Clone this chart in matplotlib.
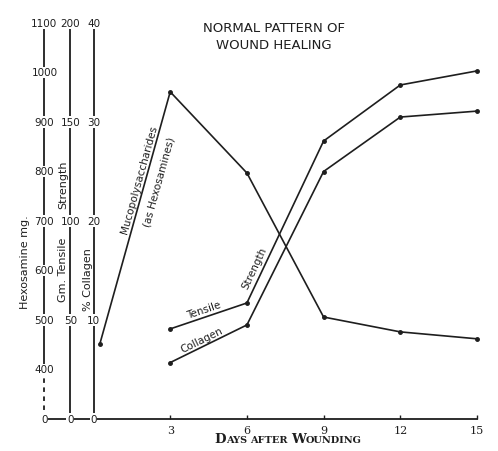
import matplotlib
matplotlib.use("Agg")
import matplotlib.pyplot as plt
import numpy as np
from matplotlib.transforms import blended_transform_factory
from matplotlib.offsetbox import TextArea, HPacker, AnnotationBbox

# values
days = [3, 6, 9, 12, 15]
muco_days = [0.25, 3, 6, 9, 12, 15]
hexosamine = [452, 961, 797, 506, 476, 462]      # mg
tensile = [45.5, 58.6, 140.4, 168.7, 175.8]      # gm
collagen = [5.7, 9.5, 25.0, 30.5, 31.1]          # %

hex_ticks = [1100, 1000, 900, 800, 700, 600, 500, 400]
tensile_ticks = [200, 150, 100, 50, 0]
collagen_ticks = [40, 30, 20, 10, 0]
day_ticks = [3, 6, 9, 12, 15]

ink = "#1e1e1e"
W, H = 498, 452


def fxy(x, y):
    # pixel position -> figure fraction
    return x / W, 1 - y / H


fig = plt.figure(figsize=(W / 100, H / 100), dpi=100)
ax = fig.add_axes([93.5 / W, 32 / H, 383.5 / W, 396 / H])
ax_t = ax.twinx()
ax_h = ax.twinx()

ax.set_xlim(0, 15)
ax.set_ylim(0, 40)
ax_t.set_ylim(0, 200)
ax_h.set_ylim(300, 1100)

x_hex, x_ten = -0.128, -0.0605
for a in (ax, ax_t, ax_h):
    a.spines["top"].set_visible(False)
    a.spines["right"].set_visible(False)
    a.set_yticks([])
    a.patch.set_visible(False)
for a in (ax_t, ax_h):
    a.spines["bottom"].set_visible(False)
for a, xp in ((ax_t, x_ten), (ax_h, x_hex)):
    a.spines["left"].set_visible(True)
    a.spines["left"].set_position(("axes", xp))
for a in (ax, ax_t, ax_h):
    for s in a.spines.values():
        s.set_color(ink)
        s.set_linewidth(1.3)
ax_h.spines["left"].set_bounds(400, 1100)

ax.set_xticks(day_ticks)
ax.set_xticklabels([str(d) for d in day_ticks], family="DejaVu Serif", fontsize=8)
ax.tick_params(axis="x", direction="in", length=3, width=1, pad=4, colors=ink)

# dashed (broken) part of the hexosamine scale and baseline between the scales
tr_h = blended_transform_factory(ax.transAxes, ax_h.transData)
ax_h.plot([x_hex, x_hex], [300, 400], transform=tr_h, color=ink, lw=1.3,
          ls=(0, (2.5, 2.5)), clip_on=False)
ax.plot([x_hex, 0], [0, 0], transform=ax.transAxes, color=ink, lw=1.3, clip_on=False)

# scale numbers sit on the scale lines
box = dict(facecolor="white", edgecolor="none", pad=0.5)
num = dict(ha="center", va="center", fontsize=7.5, color=ink, bbox=box,
           zorder=5, clip_on=False)
tr_c = blended_transform_factory(ax.transAxes, ax.transData)
for v in hex_ticks:
    ax_h.text(x_hex, v, str(v), transform=tr_h, **num)
ax_h.text(x_hex, 300, "0", transform=tr_h, **num)
for v in tensile_ticks:
    ax_h.text(x_ten, v / 5, str(v), transform=tr_c, **num)
for v in collagen_ticks:
    ax_h.text(0, v, str(v), transform=tr_c, **num)

# the three curves
style = dict(color=ink, lw=1.2, marker="o", ms=2.5, clip_on=False)
ax_h.plot(muco_days, hexosamine, **style)
ax_t.plot(days, tensile, **style)
ax.plot(days, collagen, **style)


def seg_angle(a, x0, y0, x1, y1):
    p0, p1 = a.transData.transform([(x0, y0), (x1, y1)])
    return np.degrees(np.arctan2(p1[1] - p0[1], p1[0] - p0[0]))


lab = dict(fontsize=7.5, color=ink, ha="center", va="center", rotation_mode="anchor")
a_muco = seg_angle(ax_h, muco_days[0], hexosamine[0], muco_days[1], hexosamine[1])
ax.text(1.79, 24.3, "Mucopolysaccharides", rotation=a_muco, **lab)
ax.text(2.57, 24.0, "(as Hexosamines)", rotation=a_muco, **lab)
ax.text(4.33, 11.1, "Tensile", rotation=seg_angle(ax_t, 3, tensile[0], 6, tensile[1]), **lab)
ax.text(6.29, 15.35, "Strength", rotation=seg_angle(ax_t, 6, tensile[1], 9, tensile[2]), **lab)
ax.text(4.25, 8.08, "Collagen", rotation=seg_angle(ax, 3, collagen[0], 6, collagen[1]), **lab)

# scale titles
side = dict(rotation=90, ha="center", va="center", fontsize=8, color=ink)
fig.text(*fxy(25, 262), "Hexosamine mg.", **side)
fig.text(*fxy(63, 185), "Strength", **side)
fig.text(*fxy(63, 270), "Gm. Tensile", **side)
fig.text(*fxy(88, 280), "% Collagen", **side)

fig.text(*fxy(274, 37), "NORMAL PATTERN OF\nWOUND HEALING", ha="center", va="center",
         fontsize=9.5, color=ink, linespacing=1.45)

# small caps x label
parts = [("D", 9.5), ("AYS ", 7), ("AFTER ", 7), ("W", 9.5), ("OUNDING", 7)]
kids = [TextArea(s, textprops=dict(family="DejaVu Serif", fontsize=fs, color=ink,
                                   fontweight="bold")) for s, fs in parts]
pack = HPacker(children=kids, align="baseline", pad=0, sep=0)
fig.add_artist(AnnotationBbox(pack, fxy(288, 440), xycoords="figure fraction",
                              frameon=False, box_alignment=(0.5, 0.5)))

fig.savefig("out.png", dpi=100, facecolor="white")
